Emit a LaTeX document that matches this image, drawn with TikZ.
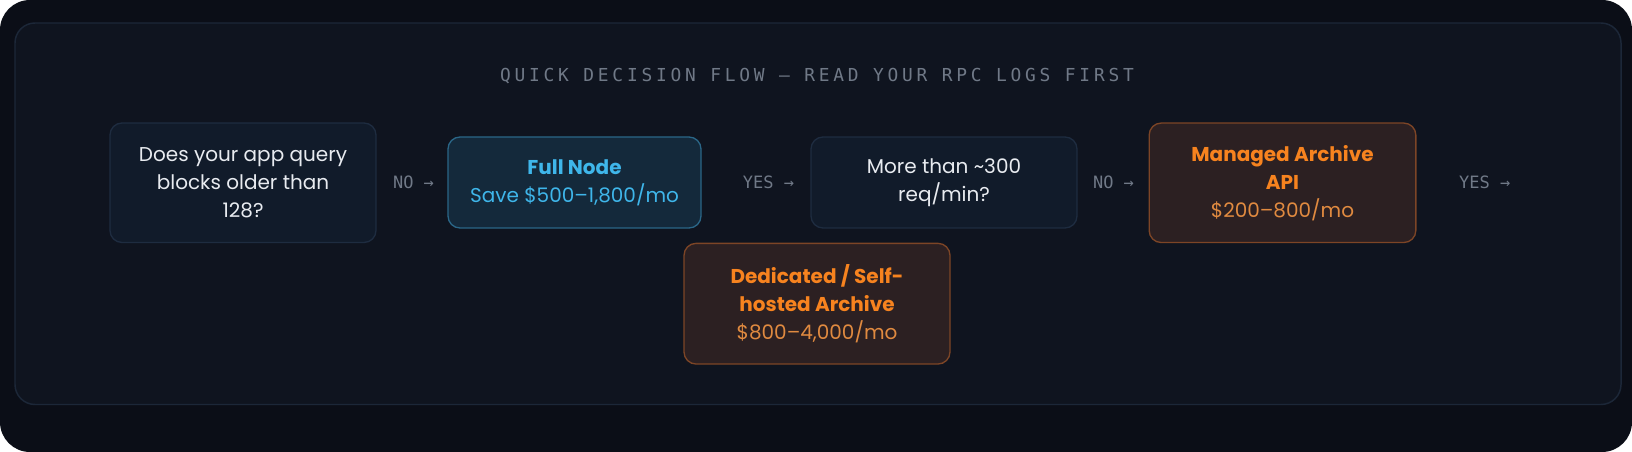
\documentclass[tikz,border=0pt]{standalone}
\usepackage{fontspec}
\setmainfont{Poppins}
\newfontfamily\monolab{DejaVu Sans Mono}
\newfontfamily\monotitle{DejaVu Sans Mono}[LetterSpace=21]
\definecolor{outerbg}{HTML}{0B0E17}
\definecolor{panelbg}{HTML}{0F141F}
\definecolor{panelbd}{HTML}{1C2738}
\definecolor{qfill}{HTML}{111B2A}
\definecolor{qbd}{HTML}{1E2C40}
\definecolor{ffill}{HTML}{14293B}
\definecolor{fbd}{HTML}{2A6687}
\definecolor{afill}{HTML}{2C2022}
\definecolor{abd}{HTML}{7D4526}
\definecolor{txtw}{HTML}{E8EBF0}
\definecolor{txtb}{HTML}{3FB6EA}
\definecolor{txto}{HTML}{F7831F}
\definecolor{txto2}{HTML}{E08A40}
\definecolor{txtg}{HTML}{707987}
\begin{document}
\begin{tikzpicture}[x=0.75pt,y=-0.75pt,
  boxbase/.style={rounded corners=9pt, line width=1pt, inner sep=0pt, align=center,
    font=\fontsize{15pt}{21pt}\selectfont},
  qbox/.style={boxbase, fill=qfill, draw=qbd, text=txtw},
  fbox/.style={boxbase, fill=ffill, draw=fbd, text=txtb},
  abox/.style={boxbase, fill=afill, draw=abd, text=txto},
  lab/.style={text=txtg, font=\monolab\fontsize{12.75pt}{15pt}\selectfont, inner sep=0pt},
  ttl/.style={text=txtg, font=\monotitle\fontsize{13.4pt}{15pt}\selectfont, inner sep=0pt}
]
\fill[white] (0,0) rectangle (1632,452);
\useasboundingbox (0,0) rectangle (1632,452);
\fill[outerbg, rounded corners=22.5pt] (0,0) rectangle (1632,452);
\draw[fill=panelbg, draw=panelbd, line width=1.1pt, rounded corners=15pt] (15,23) rectangle (1621,404.5);

\node[ttl] (title) at (817,76) {QUICK DECISION FLOW — READ YOUR RPC LOGS FIRST};

\node[qbox, minimum width=199.5pt, minimum height=89.6pt] (q1) at (243,182.75)
  {Does your app query\\blocks older than\\128?};
\node[fbox, minimum width=189.75pt, minimum height=68.25pt] (full) at (574.5,182.5)
  {\textbf{Full Node}\\Save \$500–1,800/mo};
\node[qbox, minimum width=199.5pt, minimum height=68.25pt] (q2) at (944,182.5)
  {More than \textasciitilde300\\req/min?};
\node[abox, minimum width=200pt, minimum height=89.6pt] (managed) at (1282.5,182.8)
  {\textbf{Managed Archive}\\\textbf{API}\\\textcolor{txto2}{\$200–800/mo}};
\node[abox, minimum width=199.5pt, minimum height=90.5pt] (dedicated) at (817,303.7)
  {\textbf{Dedicated / Self-}\\\textbf{hosted Archive}\\\textcolor{txto2}{\$800–4,000/mo}};

\node[lab] (no1) at (413.5,182.5) {NO →};
\node[lab] (yes1) at (768.5,182.5) {YES →};
\node[lab] (no2) at (1113.5,182.5) {NO →};
\node[lab] (yes2) at (1484.7,182.7) {YES →};
\end{tikzpicture}
\end{document}
